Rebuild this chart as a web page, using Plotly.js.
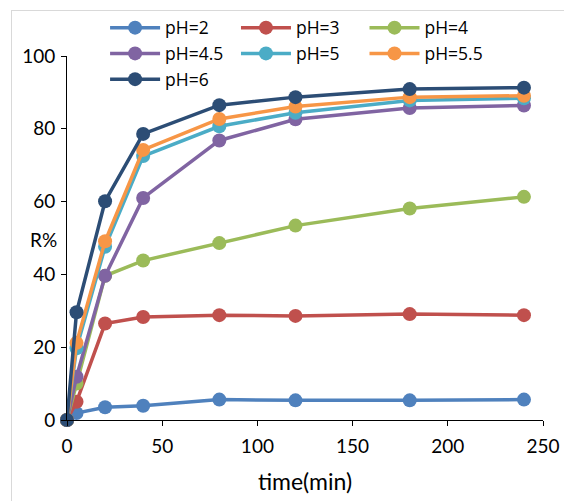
<!DOCTYPE html>
<html>
<head>
<meta charset="utf-8">
<script src="https://cdn.plot.ly/plotly-3.0.1.min.js"></script>
<style>
html,body{margin:0;padding:0;background:#fff;}
#wrap{position:relative;width:564px;height:501px;overflow:hidden;}
#frame{position:absolute;left:11px;top:10px;width:600px;height:600px;border-left:1.5px solid #d9d9d9;border-top:1.5px solid #d9d9d9;pointer-events:none;}
#chart{position:absolute;left:0;top:0;width:564px;height:501px;}
</style>
</head>
<body>
<div id="wrap"><div id="chart"></div><div id="frame"></div></div>
<script>
const time = [0, 5, 20, 40, 80, 120, 180, 240];
const seriesNames = ['pH=2', 'pH=3', 'pH=4', 'pH=4.5', 'pH=5', 'pH=5.5', 'pH=6'];
const pH2  = [0, 1.9, 3.5, 3.9, 5.6, 5.4, 5.4, 5.6];
const pH3  = [0, 5.0, 26.5, 28.3, 28.8, 28.6, 29.1, 28.8];
const pH4  = [0, 10.0, 39.6, 43.8, 48.6, 53.4, 58.1, 61.3];
const pH45 = [0, 11.9, 39.6, 61.0, 76.8, 82.6, 85.7, 86.4];
const pH5  = [0, 19.7, 47.6, 72.5, 80.7, 84.4, 87.8, 88.4];
const pH55 = [0, 21.2, 49.1, 74.2, 82.7, 86.1, 88.7, 89.1];
const pH6  = [0, 29.6, 60.1, 78.6, 86.5, 88.7, 90.9, 91.3];
const yTickVals = [0, 20, 40, 60, 80, 100];
const xTickVals = [0, 50, 100, 150, 200, 250];

const values = [pH2, pH3, pH4, pH45, pH5, pH55, pH6];
const colors = ['#4f81bd', '#c0504d', '#9bbb59', '#8064a2', '#4bacc6', '#f79646', '#2c4d75'];
const legendOf = ['legend', 'legend2', 'legend3', 'legend', 'legend2', 'legend3', 'legend'];

const FONT = 'Lato, "Liberation Sans", sans-serif';
const LFONT = '"Open Sans", "DejaVu Sans", sans-serif';

const data = values.map((v, i) => ({
  x: time,
  y: v,
  name: seriesNames[i],
  type: 'scatter',
  mode: 'lines+markers',
  line: {color: colors[i], width: 3.5},
  marker: {color: colors[i], size: 14},
  cliponaxis: false,
  legend: legendOf[i]
}));

const legendBase = {
  orientation: 'v',
  yanchor: 'top',
  xanchor: 'left',
  y: 1.127,
  bgcolor: 'rgba(0,0,0,0)',
  font: {family: LFONT, size: 17.5, color: '#000'},
  itemwidth: 50,
  tracegroupgap: 0
};

const layout = {
  width: 564,
  height: 501,
  margin: {l: 67, r: 21, t: 56, b: 81, autoexpand: false},
  paper_bgcolor: '#fff',
  plot_bgcolor: '#fff',
  font: {family: FONT, size: 19, color: '#000'},
  showlegend: true,
  legend: Object.assign({}, legendBase, {x: 0.08}),
  legend2: Object.assign({}, legendBase, {x: 0.355}),
  legend3: Object.assign({}, legendBase, {x: 0.625}),
  xaxis: {
    range: [0, 250],
    tickvals: xTickVals,
    ticks: 'outside',
    ticklen: 5,
    tickcolor: '#000',
    ticklabelstandoff: 4,
    showline: true,
    linecolor: '#000',
    linewidth: 1,
    showgrid: false,
    zeroline: false,
    tickfont: {family: FONT, size: 19, color: '#000'},
    title: {text: 'time(min)', font: {family: FONT, size: 23, color: '#000'}, standoff: 18}
  },
  yaxis: {
    range: [0, 100],
    tickvals: yTickVals,
    ticks: 'outside',
    ticklen: 5,
    tickcolor: '#000',
    ticklabelstandoff: 2,
    showline: true,
    linecolor: '#000',
    linewidth: 1,
    showgrid: false,
    zeroline: false,
    tickfont: {family: FONT, size: 19, color: '#000'}
  },
  annotations: [{
    text: 'R%',
    xref: 'paper', yref: 'y',
    x: 0, y: 49.5,
    xanchor: 'center', yanchor: 'middle',
    xshift: -24,
    showarrow: false,
    font: {family: FONT, size: 19, color: '#000'}
  }]
};

Plotly.newPlot('chart', data, layout, {displayModeBar: false, staticPlot: true});
</script>
</body>
</html>
